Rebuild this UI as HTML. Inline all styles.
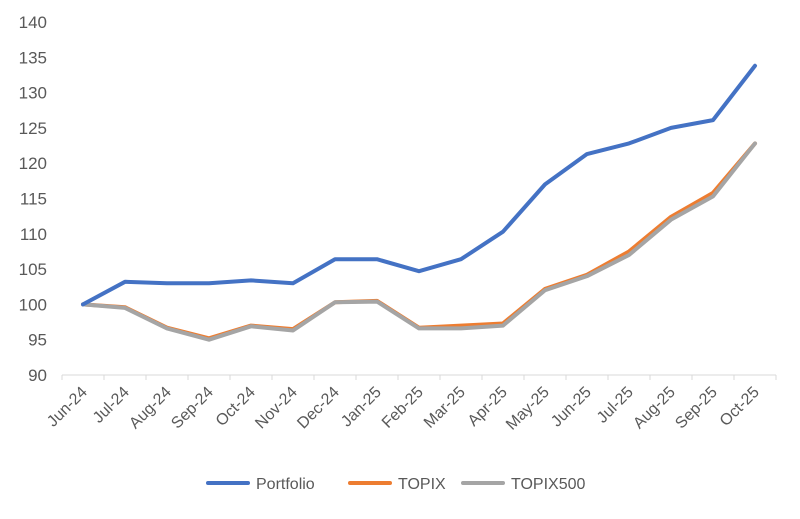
<!DOCTYPE html>
<html><head><meta charset="utf-8"><style>
body{margin:0;background:#fff;width:800px;height:514px;overflow:hidden;font-family:"Liberation Sans",sans-serif;}
svg text{fill:#595959;font-family:"Liberation Sans",sans-serif;}
</style></head><body>
<svg id="chart" width="800" height="514" xmlns="http://www.w3.org/2000/svg"></svg>
<script>
const categories=["Jun-24","Jul-24","Aug-24","Sep-24","Oct-24","Nov-24","Dec-24","Jan-25","Feb-25","Mar-25","Apr-25","May-25","Jun-25","Jul-25","Aug-25","Sep-25","Oct-25"];
const portfolio=[100,103.2,103,103,103.4,103,106.4,106.4,104.7,106.4,110.3,117,121.3,122.8,125,126.1,133.8];
const topix=[100,99.6,96.7,95.2,97,96.5,100.3,100.5,96.7,97,97.3,102.2,104.2,107.5,112.4,115.8,122.8];
const topix500=[100,99.5,96.6,95,96.9,96.3,100.3,100.4,96.6,96.6,97,102,104,107,112,115.3,122.8];
const yTicks=[90,95,100,105,110,115,120,125,130,135,140];
const svg=document.getElementById('chart');
const NS="http://www.w3.org/2000/svg";
const x0=62,x1=776,y0=375,y1=22,yMin=90,yMax=140;
const bw=(x1-x0)/categories.length;
const xS=i=>x0+bw*(i+0.5);
const yS=v=>y0-(v-yMin)/(yMax-yMin)*(y0-y1);
function mk(t,a){const e=document.createElementNS(NS,t);for(const k in a)e.setAttribute(k,a[k]);svg.appendChild(e);return e;}
yTicks.forEach(v=>{const t=mk('text',{x:47,y:yS(v)+6,'text-anchor':'end','font-size':17});t.textContent=v;

});
const ax=mk('line',{x1:x0,y1:y0,x2:x1,y2:y0,stroke:'#d9d9d9','stroke-width':1});


for(let i=0;i<=categories.length;i++){const l=mk('line',{x1:x0+bw*i,y1:y0,x2:x0+bw*i,y2:y0+5,stroke:'#d9d9d9'});

}
categories.forEach((c,i)=>{const t=mk('text',{x:xS(i)+5,y:y0+18,'text-anchor':'end','font-size':16,transform:`rotate(-45 ${xS(i)+5} ${y0+18})`});t.textContent=c;

});
function series(d,col,name){const p=mk('polyline',{points:d.map((v,i)=>xS(i)+','+yS(v)).join(' '),fill:'none',stroke:col,'stroke-width':4,'stroke-linejoin':'round','stroke-linecap':'round'});

}
series(topix,'#ed7d31','topix-line');
series(topix500,'#a5a5a5','topix500-line');
series(portfolio,'#4472c4','portfolio-line');
[[208,'#4472c4','Portfolio','legend-portfolio'],[350,'#ed7d31','TOPIX','legend-topix'],[463,'#a5a5a5','TOPIX500','legend-topix500']].forEach(([x,c,n,dn])=>{
const l=mk('line',{x1:x,y1:483,x2:x+40,y2:483,stroke:c,'stroke-width':4,'stroke-linecap':'round'});


const t=mk('text',{x:x+48,y:489,'font-size':16});t.textContent=n;

});
</script>
</body></html>
